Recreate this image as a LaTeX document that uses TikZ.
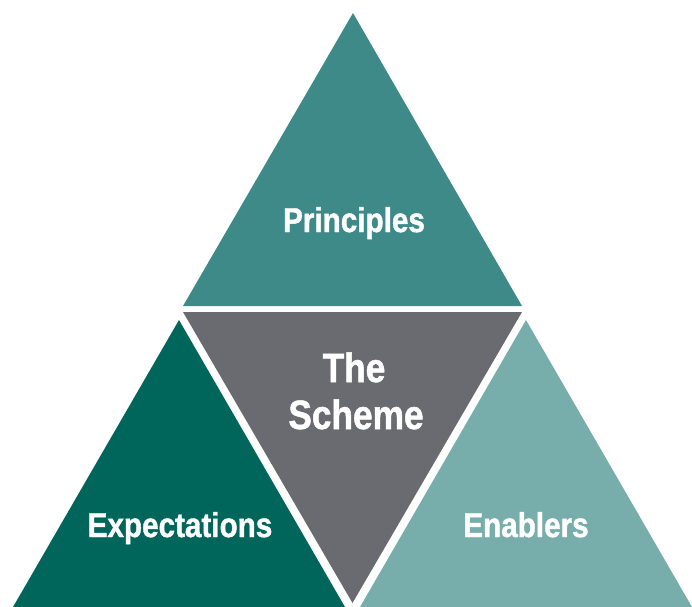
\documentclass[tikz,border=0pt]{standalone}
\usepackage{fontspec}
\setmainfont{Liberation Sans}[FakeStretch=0.86, BoldFeatures={FakeBold=1.2}]
\definecolor{topc}{HTML}{3E8A88}
\definecolor{midc}{HTML}{6A6B70}
\definecolor{leftc}{HTML}{00665B}
\definecolor{rightc}{HTML}{77ADAB}
\tikzset{
  lbl/.style={text=white, font=\bfseries\fontsize{34.5}{34.5}\selectfont, anchor=base, inner sep=0pt},
  lblbig/.style={text=white, font=\bfseries\fontsize{41}{41}\selectfont, anchor=base, inner sep=0pt}
}
\begin{document}
\begin{tikzpicture}[x=1pt,y=-1pt]
\useasboundingbox (0,0) rectangle (692,606);
\begin{scope}
\clip (0,0) rectangle (692,606);
% top
\fill[topc] (353,13) -- (183,306) -- (522,306) -- cycle;
% middle inverted
\fill[midc] (183,312) -- (522,312) -- (352.5,603) -- cycle;
% left
\fill[leftc] (179,320) -- (13,607) -- (345,607) -- cycle;
% right
\fill[rightc] (526,320) -- (360,607) -- (692,607) -- cycle;
\end{scope}
\node[lbl] (p) at (354,232) {Principles};
\node[lbl] (e) at (180,537) {Expectations};
\node[lbl] (n) at (526,537) {Enablers};
\node[lblbig] (t) at (354,382) {The};
\node[lblbig] (s) at (356,429) {Scheme};
\end{tikzpicture}
\end{document}
